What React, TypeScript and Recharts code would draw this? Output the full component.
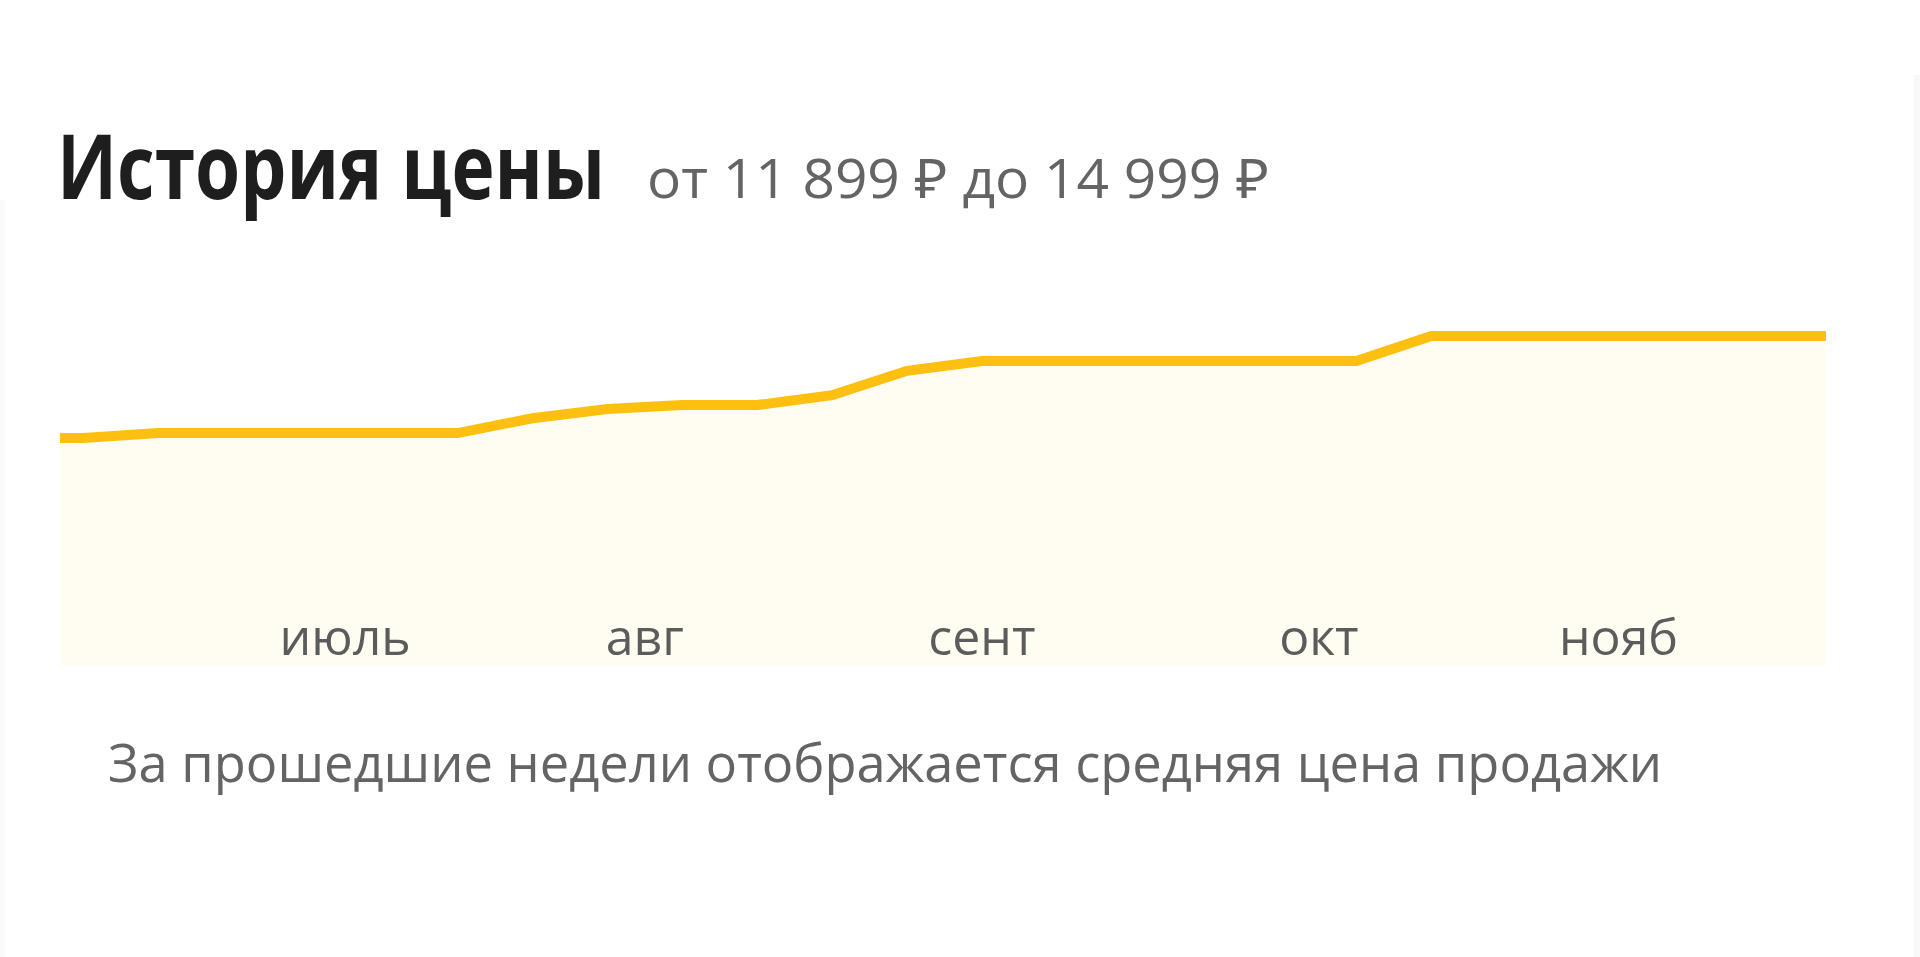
import React from 'react';
import { ComposedChart, Area, XAxis, YAxis } from 'recharts';

const weeks = [-1, 0, 1, 2, 3, 4, 5, 6, 7, 8, 9, 10, 11, 12, 13, 14, 15, 16, 17, 18, 19, 20, 21, 22, 23, 24];
const prices = [
  11899, 11899, 12050, 12050, 12050, 12050, 12050, 12500, 12780, 12900, 12900, 13200, 13940,
  14240, 14240, 14240, 14240, 14240, 14240, 14999, 14999, 14999, 14999, 14999, 14999, 14999,
];
const monthTicks = [3.5, 7.5, 12, 16.5, 20.5];
const monthLabels = ['июль', 'авг', 'сент', 'окт', 'нояб'];

const title = 'История цены';
const subtitle = 'от 11 899 ₽ до 14 999 ₽';
const caption = 'За прошедшие недели отображается средняя цена продажи';

const data = weeks.map((w, i) => ({ week: w, price: prices[i] }));

const FONT = '"Open Sans", "Noto Sans", "DejaVu Sans", sans-serif';

const MonthTick = (props: any) => {
  const { x, y, payload } = props;
  const idx = monthTicks.indexOf(payload.value);
  return (
    <text x={x} y={y - 11} textAnchor="middle" fontFamily={FONT} fontSize={50} fill="#5c5c5c">
      {idx >= 0 ? monthLabels[idx] : ''}
    </text>
  );
};

export default function App() {
  return (
    <div style={{ position: 'absolute', left: 0, top: 0, width: 1920, height: 957, background: '#ffffff', overflow: 'hidden' }}>
      <div style={{ position: 'absolute', left: 1914, top: 75, width: 6, height: 882, background: '#f8f8f8' }} />
      <div style={{ position: 'absolute', left: 0, top: 200, width: 5, height: 757, background: '#fafafa' }} />
      <ComposedChart
        width={1920}
        height={957}
        data={data}
        margin={{ top: 300, right: 94, bottom: 261, left: 60 }}
        style={{ position: 'absolute', left: 0, top: 0 }}
      >
        <XAxis
          dataKey="week"
          type="number"
          domain={[-0.307, 23.27]}
          allowDataOverflow
          ticks={monthTicks}
          interval={0}
          axisLine={false}
          tickLine={false}
          tickSize={0}
          tickMargin={0}
          height={30}
          tick={<MonthTick />}
        />
        <YAxis hide domain={[4970, 16093]} allowDataOverflow />
        <Area
          type="linear"
          dataKey="price"
          stroke="#fdc010"
          strokeWidth={10}
          fill="#fffdf2"
          fillOpacity={1}
          dot={false}
          activeDot={false}
          isAnimationActive={false}
        />
      </ComposedChart>
      <svg width={1920} height={957} style={{ position: 'absolute', left: 0, top: 0, pointerEvents: 'none' }}>
        <g transform="scale(1, 1.236)">
          <text x={57} y={161} fontFamily={FONT} fontWeight={700} fontSize={72} fill="#1e1e1e" textLength={548} lengthAdjust="spacingAndGlyphs">
            {title}
          </text>
        </g>
        <text x={647} y={198} fontFamily={FONT} fontSize={55} fill="#646464" textLength={622} lengthAdjust="spacingAndGlyphs">
          {subtitle}
        </text>
        <text x={108} y={782} fontFamily={FONT} fontSize={53} fill="#646464" textLength={1554} lengthAdjust="spacingAndGlyphs">
          {caption}
        </text>
      </svg>
    </div>
  );
}
